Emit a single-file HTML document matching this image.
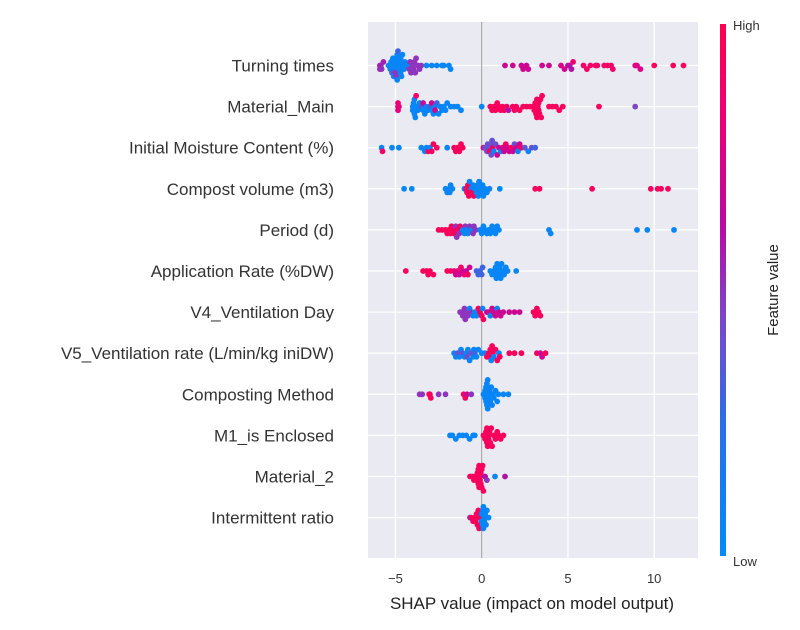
<!DOCTYPE html>
<html><head><meta charset="utf-8">
<style>
html,body{margin:0;padding:0;background:#fff;}
svg{display:block;font-family:"Liberation Sans",sans-serif;}
</style></head>
<body>
<svg id="chart" width="800" height="630" viewBox="0 0 800 630">
<defs>
<linearGradient id="cbg" x1="0" y1="1" x2="0" y2="0">
<stop offset="0" stop-color="#008bfb"/><stop offset="0.25" stop-color="#2a6ee9"/>
<stop offset="0.45" stop-color="#7d46c8"/><stop offset="0.62" stop-color="#b80aa4"/>
<stop offset="0.8" stop-color="#e8007a"/><stop offset="1" stop-color="#ff0052"/>
</linearGradient>
</defs>
<rect x="368" y="22" width="330" height="536" fill="#eaeaf2"/>
<g id="grid"></g>
<g id="ylabels"></g>
<g id="xticks"></g>
<g id="dots"></g>
<text x="532" y="609" font-size="17" fill="#222" text-anchor="middle">SHAP value (impact on model output)</text>
<rect x="720" y="24" width="6" height="532" fill="url(#cbg)"/>
<text x="733" y="30" font-size="13" fill="#333">High</text>
<text x="733" y="566" font-size="13" fill="#333">Low</text>
<text x="778" y="290" font-size="15" fill="#222" text-anchor="middle" transform="rotate(-90 778 290)">Feature value</text>
</svg>
<script>
const features = ["Turning times","Material_Main","Initial Moisture Content (%)","Compost volume (m3)","Period (d)","Application Rate (%DW)","V4_Ventilation Day","V5_Ventilation rate (L/min/kg iniDW)","Composting Method","M1_is Enclosed","Material_2","Intermittent ratio"];
const xTicks = [-5, 0, 5, 10];
const row0 = [[-5.9,.55],[-5.9,.55],[-5.85,.55],[-5.8,.5],[-5.7,.55],[-5.4,.05],[-5.35,.05],[-5.3,.05],[-5.25,.05],[-5.2,.3],[-5.15,.05],[-5.1,.05],[-5.05,.05],[-5.0,.05],[-5.0,.05],[-4.95,.05],[-4.9,.05],[-4.9,.05],[-4.85,.3],[-4.8,.05],[-4.8,.05],[-4.75,.05],[-4.7,.05],[-4.7,.05],[-4.65,.05],[-4.6,.05],[-4.55,.05],[-4.5,.05],[-4.45,.05],[-5.0,.5],[-4.95,.5],[-4.2,.5],[-4.15,.5],[-4.1,.5],[-4.0,.5],[-3.95,.5],[-3.9,.5],[-3.85,.5],[-3.8,.5],[-3.7,.5],[-3.6,.5],[-3.5,.5],[-4.3,.05],[-3.2,.05],[-2.9,.05],[-2.6,.05],[-2.3,.05],[-2.2,.05],[-1.9,.05],[-1.8,.05],[1.35,.7],[1.8,.7],[2.3,.7],[2.4,.7],[2.6,.7],[2.7,.7],[3.5,.7],[3.9,.7],[4.6,.75],[4.8,.7],[5.0,.65],[5.1,.6],[5.2,.6],[5.3,.85],[5.9,.9],[6.1,.9],[6.3,.9],[6.6,.9],[6.7,.9],[7.1,.9],[7.3,.9],[7.5,.9],[7.6,.9],[8.9,.75],[9.0,.75],[9.2,.75],[10.0,.95],[11.1,.95],[11.7,.95]];
const row1 = [[-4.85,.8],[-4.85,.8],[-4.85,.8],[-4.8,.8],[-4.0,.05],[-4.0,.05],[-3.95,.05],[-3.9,.05],[-3.9,.05],[-3.85,.05],[-3.8,.9],[-3.75,.05],[-3.7,.05],[-3.6,.05],[-3.5,.3],[-3.4,.05],[-3.3,.05],[-3.2,.05],[-3.1,.05],[-3.0,.3],[-2.9,.05],[-2.8,.05],[-2.7,.05],[-2.6,.3],[-2.5,.05],[-2.4,.05],[-2.3,.05],[-2.2,.05],[-2.1,.05],[-2.0,.05],[-1.8,.05],[-1.6,.05],[-1.4,.05],[-1.2,.05],[-3.4,.7],[-2.9,.7],[-2.7,.7],[0.0,.05],[0.5,.95],[0.6,.95],[0.7,.95],[0.8,.95],[0.9,.95],[1.0,.95],[1.1,.95],[1.2,.95],[1.3,.95],[1.45,.95],[1.55,.6],[1.8,.95],[1.9,.95],[2.0,.95],[2.2,.95],[2.4,.95],[2.6,.95],[2.8,.95],[3.0,.95],[3.05,.95],[3.1,.95],[3.15,.95],[3.2,.95],[3.2,.95],[3.25,.95],[3.3,.95],[3.3,.95],[3.35,.95],[3.4,.95],[3.45,.95],[3.5,.95],[3.9,.95],[4.1,.95],[4.3,.95],[4.5,.95],[4.7,.95],[6.8,.95],[8.9,.45]];
const row2 = [[-5.8,.05],[-5.75,.9],[-5.2,.05],[-4.8,.05],[-3.5,.05],[-3.3,.05],[-3.2,.05],[-3.1,.95],[-3.0,.05],[-2.9,.95],[-2.8,.95],[-2.6,.95],[-2.0,.05],[-1.6,.95],[-1.5,.95],[-1.4,.95],[-1.3,.95],[-1.2,.95],[-1.1,.95],[0.1,.8],[0.2,.4],[0.3,.4],[0.35,.4],[0.4,.4],[0.45,.9],[0.5,.4],[0.55,.4],[0.6,.4],[0.65,.9],[0.7,.05],[0.8,.4],[0.9,.7],[1.0,.7],[1.1,.05],[1.2,.7],[1.3,.7],[1.4,.95],[1.5,.7],[1.6,.7],[1.7,.95],[1.8,.7],[1.9,.4],[2.0,.7],[2.1,.05],[2.2,.7],[2.3,.95],[2.5,.4],[2.7,.05],[2.9,.4],[3.1,.3]];
const row3 = [[-4.5,.05],[-4.05,.05],[-2.1,.05],[-2.0,.05],[-1.9,.05],[-1.85,.05],[-1.8,.05],[-1.7,.05],[-1.0,.05],[-0.9,.95],[-0.85,.95],[-0.8,.95],[-0.75,.95],[-0.7,.05],[-0.6,.05],[-0.5,.05],[-0.4,.05],[-0.3,.05],[-0.25,.05],[-0.2,.05],[-0.15,.05],[-0.1,.05],[0.0,.05],[0.05,.05],[0.1,.05],[0.2,.05],[0.3,.05],[0.45,.05],[-0.6,.95],[-0.45,.95],[1.05,.05],[3.1,.95],[3.35,.95],[6.4,.95],[9.8,.95],[10.2,.95],[10.4,.95],[10.8,.95]];
const row4 = [[-2.5,.95],[-2.3,.95],[-2.1,.95],[-2.0,.95],[-1.9,.95],[-1.8,.95],[-1.75,.95],[-1.7,.95],[-1.6,.95],[-1.5,.5],[-1.45,.5],[-1.4,.95],[-1.3,.5],[-1.25,.95],[-1.1,.05],[-1.0,.05],[-0.95,.5],[-0.9,.05],[-0.8,.05],[-0.7,.5],[-0.6,.05],[-0.5,.5],[-0.45,.5],[-0.35,.5],[-0.1,.05],[0.0,.05],[0.1,.05],[0.2,.05],[0.3,.05],[0.4,.05],[0.5,.05],[0.6,.05],[0.7,.05],[0.8,.05],[0.9,.05],[1.0,.05],[3.9,.05],[4.0,.05],[9.0,.05],[9.6,.05],[11.15,.05]];
const row5 = [[-4.4,.95],[-3.4,.95],[-3.2,.95],[-3.1,.95],[-3.0,.95],[-2.8,.95],[-2.0,.95],[-1.8,.95],[-1.6,.8],[-1.5,.7],[-1.4,.8],[-1.3,.7],[-1.2,.9],[-1.1,.7],[-1.0,.8],[-0.9,.7],[-0.8,.95],[-0.7,.7],[-0.3,.3],[-0.2,.3],[-0.1,.3],[0.0,.3],[0.05,.3],[0.5,.05],[0.6,.05],[0.7,.05],[0.75,.05],[0.8,.05],[0.85,.05],[0.9,.05],[0.95,.05],[1.0,.05],[1.05,.05],[1.1,.05],[1.15,.05],[1.2,.05],[1.3,.05],[1.4,.05],[1.5,.05],[2.0,.05]];
const row6 = [[-1.25,.5],[-1.15,.5],[-1.1,.5],[-1.0,.5],[-0.95,.5],[-0.9,.5],[-0.8,.5],[-0.7,.05],[-0.6,.5],[-0.5,.05],[-0.4,.05],[-0.3,.05],[-0.2,.95],[-0.1,.95],[0.0,.95],[0.05,.05],[0.1,.95],[0.3,.7],[0.4,.7],[0.5,.05],[0.6,.7],[0.7,.7],[0.8,.7],[0.9,.05],[1.0,.7],[1.1,.7],[1.25,.7],[1.6,.7],[1.9,.7],[2.2,.7],[3.0,.95],[3.1,.95],[3.2,.95],[3.3,.95],[3.4,.95]];
const row7 = [[-1.6,.05],[-1.5,.05],[-1.4,.4],[-1.3,.05],[-1.2,.05],[-1.1,.4],[-1.0,.05],[-0.9,.05],[-0.85,.4],[-0.8,.05],[-0.7,.05],[-0.6,.4],[-0.5,.05],[-0.45,.05],[-0.4,.3],[-0.3,.05],[-0.2,.05],[0.0,.05],[0.2,.05],[0.3,.95],[0.4,.95],[0.45,.95],[0.5,.95],[0.55,.05],[0.6,.95],[0.65,.95],[0.7,.05],[0.8,.95],[0.9,.95],[1.0,.05],[1.05,.95],[1.6,.95],[1.9,.95],[2.3,.95],[3.2,.95],[3.4,.7],[3.5,.7],[3.7,.95]];
const row8 = [[-3.6,.5],[-3.45,.5],[-3.0,.95],[-2.95,.95],[-3.05,.95],[-2.5,.5],[-2.1,.5],[-1.05,.95],[-0.95,.95],[-0.85,.7],[-0.6,.5],[0.1,.05],[0.15,.05],[0.2,.05],[0.25,.05],[0.3,.05],[0.35,.05],[0.4,.05],[0.45,.05],[0.5,.05],[0.55,.05],[0.6,.05],[0.65,.05],[0.7,.05],[0.8,.05],[0.9,.05],[0.97,.05],[0.2,.05],[0.3,.05],[0.4,.05],[0.35,.05],[0.25,.05],[1.26,.05],[1.55,.05]];
const row9 = [[-1.84,.05],[-1.7,.05],[-1.5,.05],[-1.3,.05],[-1.1,.05],[-0.9,.05],[-0.7,.05],[-0.5,.05],[-0.4,.05],[0.1,.95],[0.2,.95],[0.25,.95],[0.3,.95],[0.35,.95],[0.4,.95],[0.45,.95],[0.5,.95],[0.55,.95],[0.6,.95],[0.7,.95],[0.8,.95],[0.9,.95],[1.0,.95],[1.1,.95],[1.26,.95],[0.3,.95],[0.4,.95],[0.2,.95]];
const row10 = [[-0.68,.95],[-0.55,.95],[-0.45,.95],[-0.4,.95],[-0.3,.95],[-0.25,.95],[-0.2,.95],[-0.15,.95],[-0.1,.95],[-0.05,.95],[0.0,.95],[0.05,.95],[0.1,.95],[-0.1,.95],[-0.2,.95],[0.0,.95],[-0.15,.95],[-0.05,.95],[0.2,.6],[0.3,.5],[0.77,.05],[1.35,.6]];
const row11 = [[-0.68,.5],[-0.6,.95],[-0.5,.95],[-0.4,.95],[-0.3,.95],[-0.25,.95],[-0.2,.95],[-0.15,.95],[-0.1,.95],[-0.35,.95],[0.0,.05],[0.05,.05],[0.1,.05],[0.15,.05],[0.2,.05],[0.25,.05],[0.3,.05],[0.4,.05],[0.1,.05],[0.05,.05],[0.0,.05],[0.15,.05]];
const rows = [row0,row1,row2,row3,row4,row5,row6,row7,row8,row9,row10,row11];

const NS = "http://www.w3.org/2000/svg";
const x0 = 481.7, pxPerUnit = 17.25, rowTop = 65.5, rowGap = 41.1;
function xScale(v){ return x0 + v*pxPerUnit; }
function yRow(i){ return rowTop + i*rowGap; }
function mk(tag, attrs, parent){ const e=document.createElementNS(NS,tag); for(const k in attrs) e.setAttribute(k,attrs[k]); parent.appendChild(e); return e; }
const stops=[[0,[0,139,251]],[0.25,[42,110,233]],[0.45,[125,70,200]],[0.62,[184,10,164]],[0.8,[232,0,122]],[1,[255,0,82]]];
function color(t){
  for(let i=1;i<stops.length;i++){ if(t<=stops[i][0]){ const a=stops[i-1],b=stops[i]; const f=(t-a[0])/(b[0]-a[0]); const c=a[1].map((v,j)=>Math.round(v+(b[1][j]-v)*f)); return `rgb(${c.join(',')})`; } }
  return "rgb(255,0,82)";
}
const grid=document.getElementById('grid');
xTicks.forEach(t=>{
  const l=mk('line',{x1:xScale(t),x2:xScale(t),y1:22,y2:558,stroke:'#fff','stroke-width':1.3},grid);
  
  
  const tk=mk('text',{x:xScale(t),y:583,'font-size':13,fill:'#333','text-anchor':'middle'},document.getElementById('xticks'));
  tk.textContent = t<0 ? '\u2212'+Math.abs(t) : String(t);
  
  
});
features.forEach((f,i)=>{
  const l=mk('line',{x1:368,x2:698,y1:yRow(i),y2:yRow(i),stroke:'#fff','stroke-width':1.3},grid);
  
  
  const t=mk('text',{x:334,y:yRow(i)+6,'font-size':17,fill:'#333','text-anchor':'end'},document.getElementById('ylabels'));
  t.textContent=f;
  
  
});
const zl=mk('line',{x1:x0,x2:x0,y1:22,y2:558,stroke:'#999','stroke-width':1},grid);


const dots=document.getElementById('dots');
rows.forEach((pts,i)=>{
  const sorted=pts.map(p=>p).sort((a,b)=>a[0]-b[0]);
  const counts={};
  const placed=sorted.map(p=>{ const px=xScale(p[0]); const bin=Math.round(px/4.5); const k=counts[bin]||0; counts[bin]=k+1; const off=Math.ceil(k/2)*((k%2)*2-1); return [px,off,p[1]]; });
  let maxOff=1; placed.forEach(q=>{maxOff=Math.max(maxOff,Math.abs(q[1]));});
  const step=Math.min(3.6, 16/maxOff);
  placed.forEach(q=>{
    const c=mk('circle',{cx:q[0].toFixed(1),cy:(yRow(i)+q[1]*step).toFixed(1),r:2.9,fill:color(q[2])},dots);
    
    
  });
});
</script>
</body></html>
